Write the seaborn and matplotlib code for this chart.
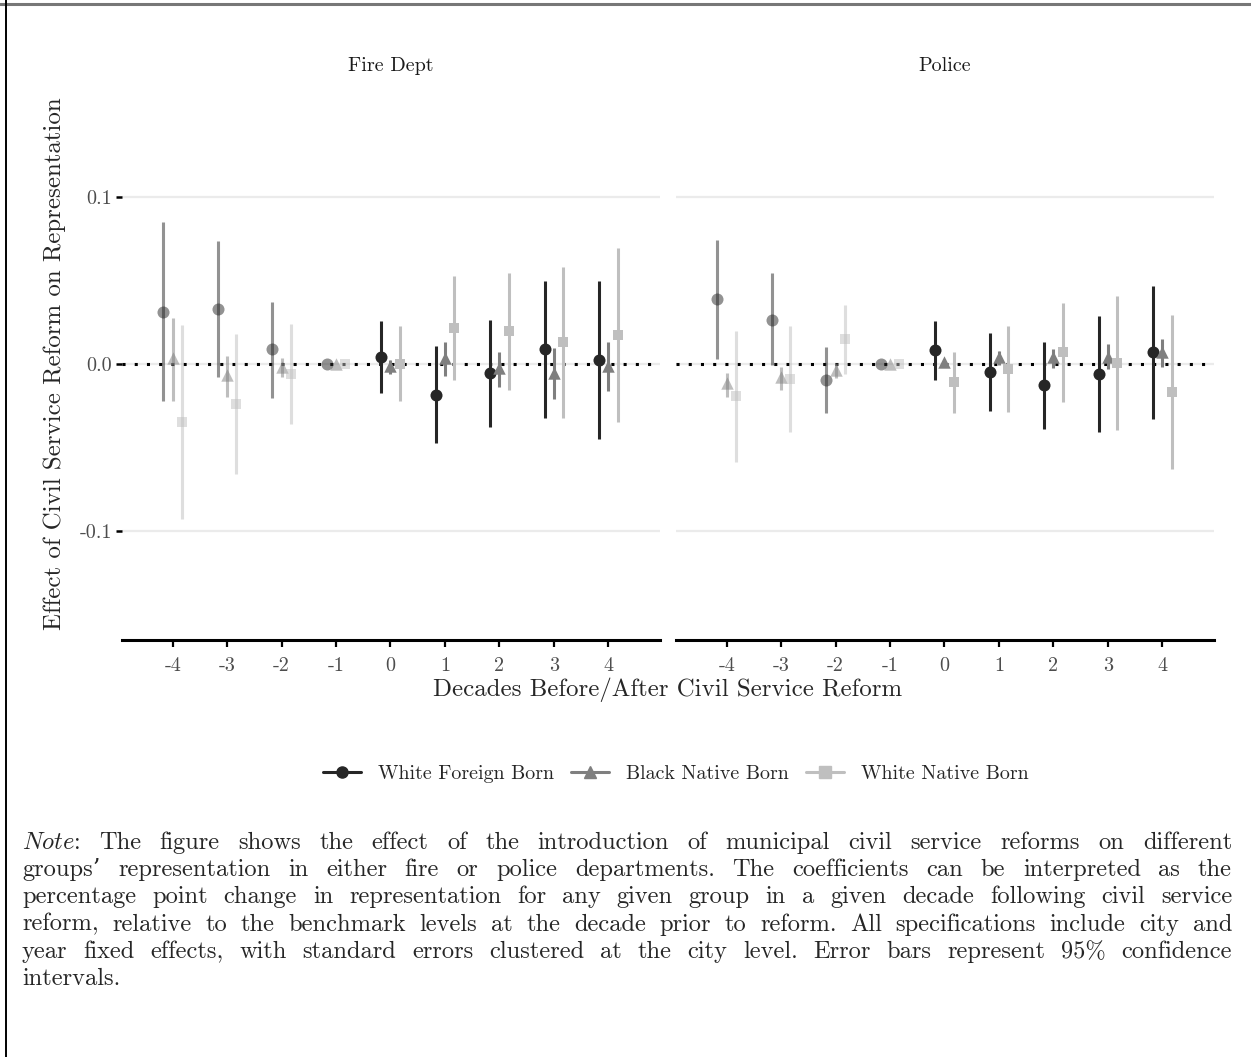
import matplotlib
matplotlib.use('Agg')
import matplotlib.pyplot as plt
from matplotlib.lines import Line2D
import seaborn as sns
import pandas as pd
import numpy as np

decades = [-4, -3, -2, -1, 0, 1, 2, 3, 4]
groups = ['White Foreign Born', 'Black Native Born', 'White Native Born']
depts = ['Fire Dept', 'Police']

# Fire Dept
fire_wfb_est = [0.031, 0.033, 0.0087, 0, 0.0040, -0.0184, -0.0055, 0.0089, 0.0024]
fire_wfb_lo = [-0.0224, -0.0079, -0.0204, 0, -0.0176, -0.0471, -0.0378, -0.0322, -0.0451]
fire_wfb_hi = [0.0849, 0.0736, 0.0372, 0, 0.0255, 0.0107, 0.0261, 0.0498, 0.0494]
fire_bnb_est = [0.0034, -0.0065, -0.0016, 0, -0.0012, 0.0034, -0.0026, -0.0051, -0.0012]
fire_bnb_lo = [-0.022, -0.020, -0.0079, 0, -0.0059, -0.0069, -0.0135, -0.021, -0.0164]
fire_bnb_hi = [0.0277, 0.0047, 0.0034, 0, 0.0024, 0.0129, 0.0073, 0.0093, 0.0132]
fire_wnb_est = [-0.0346, -0.0237, -0.0059, 0, -0.0002, 0.0218, 0.0196, 0.0129, 0.0172]
fire_wnb_lo = [-0.0926, -0.0659, -0.0358, 0, -0.0224, -0.0095, -0.0158, -0.0322, -0.0348]
fire_wnb_hi = [0.0231, 0.0178, 0.0237, 0, 0.0225, 0.0528, 0.0544, 0.0578, 0.0692]

# Police
pol_wfb_est = [0.0386, 0.0265, -0.0095, 0, 0.0083, -0.0049, -0.0125, -0.0059, 0.0073]
pol_wfb_lo = [0.0028, -0.0006, -0.0293, 0, -0.0095, -0.0283, -0.0388, -0.0408, -0.0328]
pol_wfb_hi = [0.074, 0.0544, 0.0103, 0, 0.0257, 0.0186, 0.0132, 0.0285, 0.0469]
pol_bnb_est = [-0.0115, -0.0075, -0.0036, 0, 0.0014, 0.0043, 0.0043, 0.0043, 0.0069]
pol_bnb_lo = [-0.0198, -0.0158, -0.0085, 0, -0.0005, -0.0006, -0.0026, -0.003, -0.0016]
pol_bnb_hi = [-0.0055, -0.002, 0.0008, 0, 0.0030, 0.0077, 0.0087, 0.0117, 0.0152]
pol_wnb_est = [-0.0194, -0.0091, 0.0148, 0, -0.0109, -0.003, 0.0069, 0.0004, -0.0168]
pol_wnb_lo = [-0.0586, -0.0408, -0.0059, 0, -0.0293, -0.0287, -0.0229, -0.0396, -0.0629]
pol_wnb_hi = [0.0196, 0.0227, 0.0354, 0, 0.0069, 0.0227, 0.0366, 0.0404, 0.0295]

note_lines = [
    r"$\mathit{Note}$: The figure shows the effect of the introduction of municipal civil service reforms on different",
    "groups\u2019 representation in either fire or police departments. The coefficients can be interpreted as the",
    "percentage point change in representation for any given group in a given decade following civil service",
    "reform, relative to the benchmark levels at the decade prior to reform. All specifications include city and",
    "year fixed effects, with standard errors clustered at the city level. Error bars represent 95% confidence",
    "intervals.",
]

series = {
    ('Fire Dept', 'White Foreign Born'): (fire_wfb_est, fire_wfb_lo, fire_wfb_hi),
    ('Fire Dept', 'Black Native Born'): (fire_bnb_est, fire_bnb_lo, fire_bnb_hi),
    ('Fire Dept', 'White Native Born'): (fire_wnb_est, fire_wnb_lo, fire_wnb_hi),
    ('Police', 'White Foreign Born'): (pol_wfb_est, pol_wfb_lo, pol_wfb_hi),
    ('Police', 'Black Native Born'): (pol_bnb_est, pol_bnb_lo, pol_bnb_hi),
    ('Police', 'White Native Born'): (pol_wnb_est, pol_wnb_lo, pol_wnb_hi),
}
rows = []
for (dept, grp), (est, lo, hi) in series.items():
    for d, e, l, h in zip(decades, est, lo, hi):
        rows.append([dept, grp, d, e, l, h])
df = pd.DataFrame(rows, columns=['dept', 'group', 'decade', 'est', 'lo', 'hi'])

colors = {'White Foreign Born': '#262626', 'Black Native Born': '#7f7f7f', 'White Native Born': '#bfbfbf'}
markers = {'White Foreign Born': 'o', 'Black Native Born': '^', 'White Native Born': 's'}
sizes = {'White Foreign Born': 75, 'Black Native Born': 80, 'White Native Born': 60}
offsets = {'White Foreign Born': -0.17, 'Black Native Born': 0.0, 'White Native Born': 0.17}

sns.set_theme(style='white')
plt.rcParams['font.family'] = ['cmr10', 'DejaVu Serif']
plt.rcParams['mathtext.fontset'] = 'cm'
plt.rcParams['axes.unicode_minus'] = False

W, H = 1251, 1057
fig = plt.figure(figsize=(W / 100, H / 100), dpi=100)
ax_left = fig.add_axes([122 / W, 1 - 640 / H, 538 / W, 552 / H])
ax_right = fig.add_axes([676 / W, 1 - 640 / H, 538 / W, 552 / H])

for ax, dept in zip([ax_left, ax_right], depts):
    for yv in [-0.1, 0, 0.1]:
        ax.axhline(yv, color='#ebebeb', lw=1.6, zorder=0)
    ax.axhline(0, color='black', lw=2.2, ls=(0, (1, 3)), zorder=1)
    for grp in groups:
        sub = df[(df.dept == dept) & (df.group == grp)].copy()
        sub['xpos'] = sub['decade'] + offsets[grp]
        for pre, alpha in [(True, 0.5), (False, 1.0)]:
            part = sub[(sub.decade < 0) == pre]
            ax.vlines(part['xpos'], part['lo'], part['hi'], color=colors[grp],
                      alpha=alpha, lw=2.2, zorder=2)
            sns.scatterplot(data=part, x='xpos', y='est', marker=markers[grp],
                            color=colors[grp], alpha=alpha, s=sizes[grp],
                            linewidth=0, ax=ax, legend=False, zorder=3)
    ax.set_xlim(-4.93, 4.95)
    ax.set_ylim(-0.165, 0.165)
    ax.set_xticks(decades)
    ax.set_xticklabels([str(d) for d in decades], fontsize=14.5, color='#4d4d4d')
    ax.set_xlabel('')
    ax.set_ylabel('')
    for s in ['top', 'right', 'left']:
        ax.spines[s].set_visible(False)
    ax.spines['bottom'].set_color('black')
    ax.spines['bottom'].set_linewidth(2.2)
    ax.tick_params(axis='x', length=5, width=1.6, color='black', pad=7.5, bottom=True)
    ax.set_title(dept, fontsize=14.5, color='#1a1a1a', pad=12)

ax_left.set_yticks([-0.1, 0, 0.1])
ax_left.set_yticklabels(['-0.1', '0.0', '0.1'], fontsize=14.5, color='#4d4d4d')
ax_left.tick_params(axis='y', length=4, width=1.8, color='black', pad=3, left=True)
ax_right.set_yticks([-0.1, 0, 0.1])
ax_right.set_yticklabels([])
ax_right.tick_params(axis='y', left=False)

fig.text(668 / W, 1 - 690 / H, 'Decades Before/After Civil Service Reform',
         ha='center', va='center', fontsize=17.9)
fig.text(55 / W, 1 - 364 / H, 'Effect of Civil Service Reform on Representation',
         ha='center', va='center', rotation=90, fontsize=17.9)

handles = [Line2D([0], [0], color=colors[g], marker=markers[g], lw=2.2,
                  markersize=8, label=g) for g in groups]
fig.legend(handles=handles, loc='center', bbox_to_anchor=(676 / W, 1 - 774 / H),
           ncol=3, frameon=False, fontsize=14.4, handlelength=1.9,
           handletextpad=0.85, columnspacing=0.85)

# justified note paragraph
renderer = fig.canvas.get_renderer()
x0, x1 = 22, 1232
base = 849
ref_size = 10
natural = []
for line in note_lines[:-1]:
    words = line.split(' ')
    ts = [fig.text(0, 0, w, fontsize=ref_size) for w in words]
    tot = sum(t.get_window_extent(renderer).width for t in ts)
    tot += (len(words) - 1) * 0.33 * ref_size * 100 / 72
    natural.append(tot)
    for t in ts:
        t.remove()
note_size = min(17.6, ref_size * (x1 - x0 - 8) / max(natural))

for i, line in enumerate(note_lines):
    y = 1 - (base + i * 27.2) / H
    words = line.split(' ')
    texts = [fig.text(0, y, w, fontsize=note_size, va='baseline', ha='left') for w in words]
    widths = [t.get_window_extent(renderer).width for t in texts]
    if i < len(note_lines) - 1:
        gap = (x1 - x0 - sum(widths)) / (len(words) - 1)
    else:
        gap = 0.33 * note_size * 100 / 72
    x = x0
    for t, w in zip(texts, widths):
        t.set_x(x / W)
        x += w + gap

# frame lines
fig.add_artist(Line2D([0, 1], [1 - 3.5 / H, 1 - 3.5 / H], color='#777777', lw=2.2))
fig.add_artist(Line2D([6 / W, 6 / W], [0, 1], color='black', lw=1.4))

fig.savefig('out.png', dpi=100)
